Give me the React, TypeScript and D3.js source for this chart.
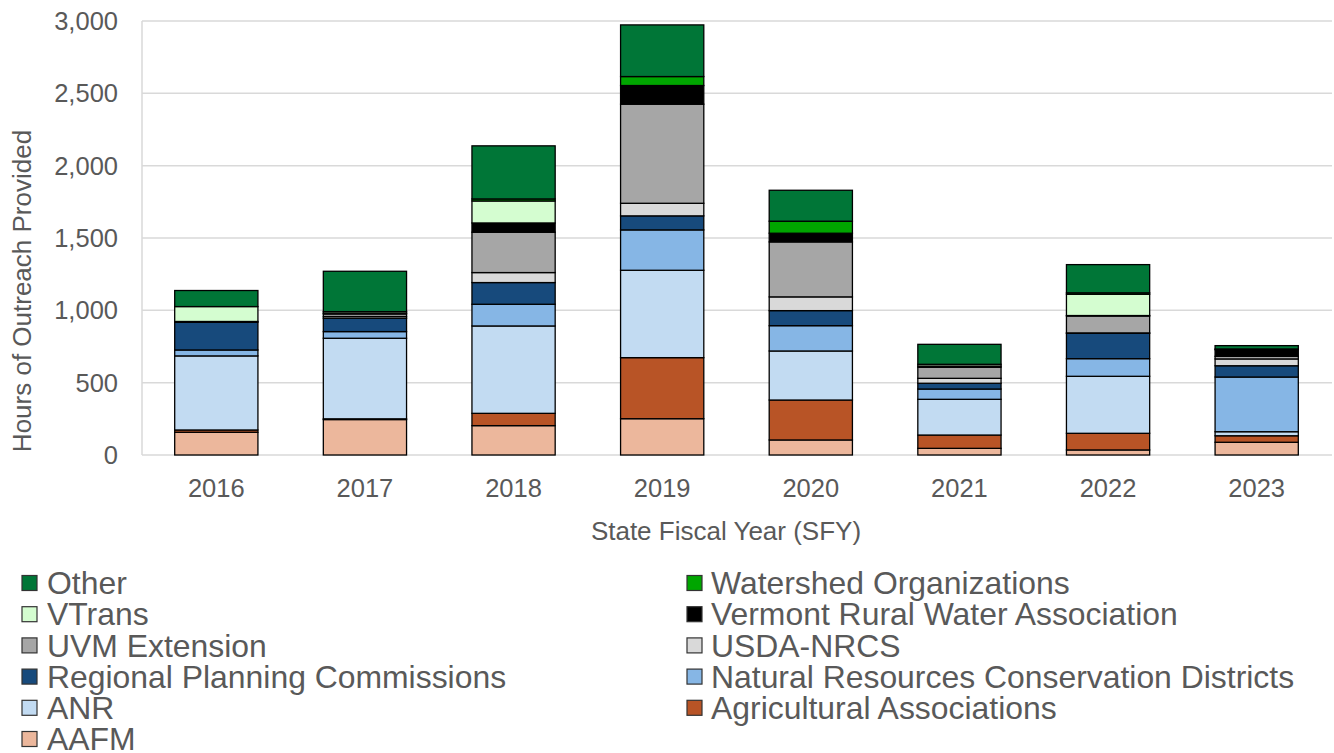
import React from "react";
import * as d3 from "d3";

const years = ["2016", "2017", "2018", "2019", "2020", "2021", "2022", "2023"];

// stack order bottom -> top
const AAFM = [157, 245, 203, 251, 104, 46, 35, 88];
const AgAssoc = [16, 5, 85, 422, 276, 92, 115, 45];
const ANR = [512, 557, 604, 604, 339, 247, 394, 28];
const NRCD = [41, 46, 150, 279, 175, 71, 122, 378];
const RPC = [192, 92, 150, 97, 104, 40, 175, 78];
const USDA = [0, 12, 69, 87, 95, 34, 3, 47];
const UVM = [0, 18, 279, 685, 380, 77, 117, 18];
const VRWA = [5, 5, 64, 129, 60, 8, 3, 46];
const VTrans = [103, 11, 152, 0, 0, 12, 147, 0];
const Watershed = [0, 0, 14, 62, 83, 0, 10, 5];
const Other = [111, 279, 367, 357, 214, 138, 195, 23];

const yTicks = [0, 500, 1000, 1500, 2000, 2500, 3000];

const seriesDefs = [
  { key: "AAFM", label: "AAFM", color: "#ECB79C", values: AAFM },
  { key: "Ag", label: "Agricultural Associations", color: "#B85426", values: AgAssoc },
  { key: "ANR", label: "ANR", color: "#C2DBF2", values: ANR },
  { key: "NRCD", label: "Natural Resources Conservation Districts", color: "#86B6E5", values: NRCD },
  { key: "RPC", label: "Regional Planning Commissions", color: "#174A7C", values: RPC },
  { key: "USDA", label: "USDA-NRCS", color: "#D9D9D9", values: USDA },
  { key: "UVM", label: "UVM Extension", color: "#A6A6A6", values: UVM },
  { key: "VRWA", label: "Vermont Rural Water Association", color: "#000000", values: VRWA },
  { key: "VTrans", label: "VTrans", color: "#D4FDD0", values: VTrans },
  { key: "WS", label: "Watershed Organizations", color: "#00A600", values: Watershed },
  { key: "Other", label: "Other", color: "#007637", values: Other },
];

// legend layout order (left column, right column)
const legendLeft = ["Other", "VTrans", "UVM", "RPC", "ANR", "AAFM"];
const legendRight = ["WS", "VRWA", "USDA", "NRCD", "Ag"];

const W = 1334;
const H = 753;
const FONT = "'Liberation Sans', Arial, sans-serif";
const TXT = "#595959";

export default function App() {
  const x = d3
    .scaleBand<string>()
    .domain(years)
    .range([142, 1331])
    .paddingInner(0.44)
    .paddingOuter(0.22);
  const y = d3.scaleLinear().domain([0, 3000]).range([455, 21]);

  const table = years.map((yr, i) => {
    const row: Record<string, number | string> = { year: yr };
    seriesDefs.forEach((s) => (row[s.key] = s.values[i]));
    return row;
  });
  const stack = d3.stack<any>().keys(seriesDefs.map((s) => s.key));
  const stacked = stack(table);

  const byKey: Record<string, (typeof seriesDefs)[0]> = {};
  seriesDefs.forEach((s) => (byKey[s.key] = s));

  const rowY = (i: number) => 583 + i * 31.2;

  return (
    <svg
      width={W}
      height={H}
      style={{ position: "absolute", left: 0, top: 0, background: "#fff" }}
      fontFamily={FONT}
    >
      {/* gridlines */}
      {yTicks.map((t) => (
        <line
          key={t}
          x1={142}
          x2={1332}
          y1={y(t)}
          y2={y(t)}
          stroke="#D9D9D9"
          strokeWidth={1.5}
        />
      ))}
      <line x1={142} x2={142} y1={21} y2={455} stroke="#D9D9D9" strokeWidth={1.5} />

      {/* bars */}
      {stacked.map((layer) => (
        <g key={layer.key} fill={byKey[layer.key].color}>
          {layer.map((d, i) =>
            d[1] - d[0] > 0 ? (
              <rect
                key={i}
                x={x(years[i])}
                width={x.bandwidth()}
                y={y(d[1])}
                height={y(d[0]) - y(d[1])}
                stroke="#000"
                strokeWidth={1.3}
              />
            ) : null
          )}
        </g>
      ))}

      {/* y tick labels */}
      {yTicks.map((t) => (
        <text
          key={t}
          x={118}
          y={y(t)}
          dy="0.35em"
          textAnchor="end"
          fontSize={25.5}
          fill={TXT}
        >
          {d3.format(",")(t)}
        </text>
      ))}

      {/* x tick labels */}
      {years.map((yr) => (
        <text
          key={yr}
          x={(x(yr) as number) + x.bandwidth() / 2}
          y={488}
          dy="0.35em"
          textAnchor="middle"
          fontSize={25.5}
          fill={TXT}
        >
          {yr}
        </text>
      ))}

      {/* axis titles */}
      <text x={726} y={531} dy="0.35em" textAnchor="middle" fontSize={26} fill={TXT}>
        State Fiscal Year (SFY)
      </text>
      <text
        transform="translate(22,291) rotate(-90)"
        dy="0.35em"
        textAnchor="middle"
        fontSize={26}
        fill={TXT}
      >
        Hours of Outreach Provided
      </text>

      {/* legend */}
      {legendLeft.map((k, i) => (
        <g key={k}>
          <rect
            x={22}
            y={rowY(i) - 7.5}
            width={15}
            height={15}
            fill={byKey[k].color}
            stroke="#333"
            strokeWidth={1.2}
          />
          <text x={47} y={rowY(i)} dy="0.35em" fontSize={31.9} fill={TXT}>
            {byKey[k].label}
          </text>
        </g>
      ))}
      {legendRight.map((k, i) => (
        <g key={k}>
          <rect
            x={687}
            y={rowY(i) - 7.5}
            width={15}
            height={15}
            fill={byKey[k].color}
            stroke="#333"
            strokeWidth={1.2}
          />
          <text x={711} y={rowY(i)} dy="0.35em" fontSize={31.9} fill={TXT}>
            {byKey[k].label}
          </text>
        </g>
      ))}
    </svg>
  );
}
